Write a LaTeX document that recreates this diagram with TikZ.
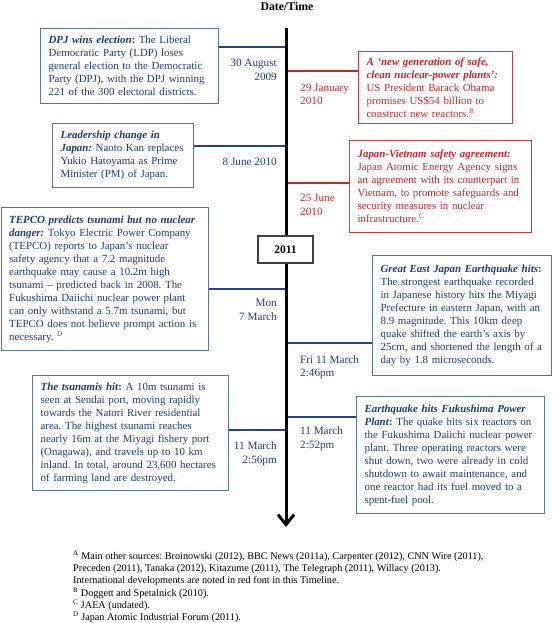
\documentclass[tikz,border=0pt]{standalone}
\usepackage{fontspec}
\setmainfont{Liberation Serif}
\usetikzlibrary{arrows.meta,positioning}
\definecolor{navy}{HTML}{1F3C78}
\definecolor{navyline}{HTML}{24467E}
\definecolor{boxblue}{HTML}{5676A6}
\definecolor{crimson}{HTML}{C8262C}
\definecolor{boxred}{HTML}{C83A3E}
\frenchspacing
\tikzset{
  evbox/.style={draw=boxblue,line width=1.2pt,fill=white,text=navy,align=left,anchor=north west,
    inner xsep=8pt,inner ysep=4pt,font=\fontsize{10.9}{13}\selectfont},
  redbox/.style={evbox,draw=boxred,text=crimson},
  bluelink/.style={navyline,line width=2pt},
  redlink/.style={crimson,line width=2pt},
  dater/.style={anchor=east,align=right,text=navy,inner sep=0pt,font=\fontsize{11.2}{13.5}\selectfont},
  datel/.style={anchor=west,align=left,text=navy,inner sep=0pt,font=\fontsize{11.2}{13.5}\selectfont}
}
\newcommand{\hd}[1]{\textbf{\textit{#1}}}
\begin{document}
\begin{tikzpicture}[x=1pt,y=-1pt]
\useasboundingbox (0,0) rectangle (552,623);
\node[font=\fontsize{11.8}{13}\bfseries] (title) at (287,6) {Date/Time};
\coordinate (ttop) at (286,28);
\coordinate (tend) at (286,527);

\node[evbox,text width=162pt,minimum height=75pt] (b1) at (40,28) {\hd{DPJ wins election}\textbf{:} The Liberal\\Democratic Party (LDP) loses\\general election to the Democratic\\Party (DPJ), with the DPJ winning\\221 of the 300 electoral districts.};
\node[redbox,text width=138pt,minimum height=72pt] (b2) at (358,51) {\hd{A `new generation of safe,}\\\hd{clean nuclear-power plants':}\\US President Barack Obama\\promises US\$54 billion to\\construct new reactors.\textsuperscript{\scriptsize B}};
\node[evbox,text width=125pt,minimum height=64pt] (b3) at (52,123) {\hd{Leadership change in}\\\hd{Japan:} Naoto Kan replaces\\Yukio Hatoyama as Prime\\Minister (PM) of Japan.};
\node[redbox,text width=166pt,minimum height=92pt] (b4) at (349,140) {\hd{Japan-Vietnam safety agreement:}\\Japan Atomic Energy Agency signs\\an agreement with its counterpart in\\Vietnam, to promote safeguards and\\security measures in nuclear\\infrastructure.\textsuperscript{\scriptsize C}};
\node[evbox,text width=191pt,minimum height=143pt] (b5) at (0.6,207) {\hd{TEPCO predicts tsunami but no nuclear}\\\hd{danger:} Tokyo Electric Power Company\\(TEPCO) reports to Japan's nuclear\\safety agency that a 7.2 magnitude\\earthquake may cause a 10.2m high\\tsunami -- predicted back in 2008. The\\Fukushima Daiichi nuclear power plant\\can only withstand a 5.7m tsunami, but\\TEPCO does not believe prompt action is\\necessary. \textsuperscript{\scriptsize D}};
\node[evbox,text width=163pt,minimum height=120pt] (b6) at (372,255) {\hd{Great East Japan Earthquake hits}\textbf{:}\\The strongest earthquake recorded\\in Japanese history hits the Miyagi\\Prefecture in eastern Japan, with an\\8.9 magnitude. This 10km deep\\quake shifted the earth's axis by\\25cm, and shortened the length of a\\day by 1.8 microseconds.};
\node[evbox,text width=180pt,minimum height=115pt] (b7) at (32,375) {\hd{The tsunamis hit}\textbf{:} A 10m tsunami is\\seen at Sendai port, moving rapidly\\towards the Natori River residential\\area. The highest tsunami reaches\\nearly 16m at the Miyagi fishery port\\(Onagawa), and travels up to 10 km\\inland. In total, around 23,600 hectares\\of farming land are destroyed.};
\node[evbox,text width=172pt,minimum height=117pt] (b8) at (356,396) {\hd{Earthquake hits Fukushima Power}\\\hd{Plant}\textbf{:} The quake hits six reactors on\\the Fukushima Daiichi nuclear power\\plant. Three operating reactors were\\shut down, two were already in cold\\shutdown to await maintenance, and\\one reactor had its fuel moved to a\\spent-fuel pool.};

\coordinate (t1) at (286,47);
\coordinate (t2) at (286,71);
\coordinate (t3) at (286,146);
\coordinate (t4) at (286,183);
\coordinate (t5) at (286,289);
\coordinate (t6) at (286,343);
\coordinate (t7) at (286,430);
\coordinate (t8) at (286,417);
\draw[bluelink] (t1) -- (t1 -| b1.east);
\draw[redlink] (t2) -- (t2 -| b2.west);
\draw[bluelink] (t3) -- (t3 -| b3.east);
\draw[redlink] (t4) -- (t4 -| b4.west);
\draw[bluelink] (t5) -- (t5 -| b5.east);
\draw[bluelink] (t6) -- (t6 -| b6.west);
\draw[bluelink] (t7) -- (t7 -| b7.east);
\draw[bluelink] (t8) -- (t8 -| b8.west);

\draw[line width=3pt,-{Straight Barb[length=10pt,width=16pt]}] (ttop) -- (tend);
\node[draw=black!75,line width=1.2pt,fill=white,minimum width=55pt,minimum height=27pt,inner sep=0pt,font=\fontsize{11.5}{12}\bfseries] (y2011) at (285.5,249.5) {2011};

\node[dater] (d1) at (277,70) {30 August\\2009};
\node[datel,text=crimson] (d2) at (300,94.5) {29 January\\2010};
\node[dater] (d3) at (277,162) {8 June 2010};
\node[datel,text=crimson] (d4) at (300,205) {25 June\\2010};
\node[dater] (d5) at (277,310) {Mon\\7 March};
\node[datel] (d6) at (300,367.5) {Fri 11 March\\2:46pm};
\node[datel] (d8) at (300,439) {11 March\\2:52pm};
\node[dater] (d7) at (277,454) {11 March\\2:56pm};

\node[anchor=north west,align=left,inner sep=0pt,font=\fontsize{10.2}{12.2}\selectfont] (notes) at (73,551) {\textsuperscript{\scriptsize A} Main other sources: Broinowski (2012), BBC News (2011a), Carpenter (2012), CNN Wire (2011),\\Preceden (2011), Tanaka (2012), Kitazume (2011), The Telegraph (2011), Willacy (2013).\\International developments are noted in red font in this Timeline.\\\textsuperscript{\scriptsize B} Doggett and Spetalnick (2010).\\\textsuperscript{\scriptsize C} JAEA (undated).\\\textsuperscript{\scriptsize D} Japan Atomic Industrial Forum (2011).};
\end{tikzpicture}
\end{document}
